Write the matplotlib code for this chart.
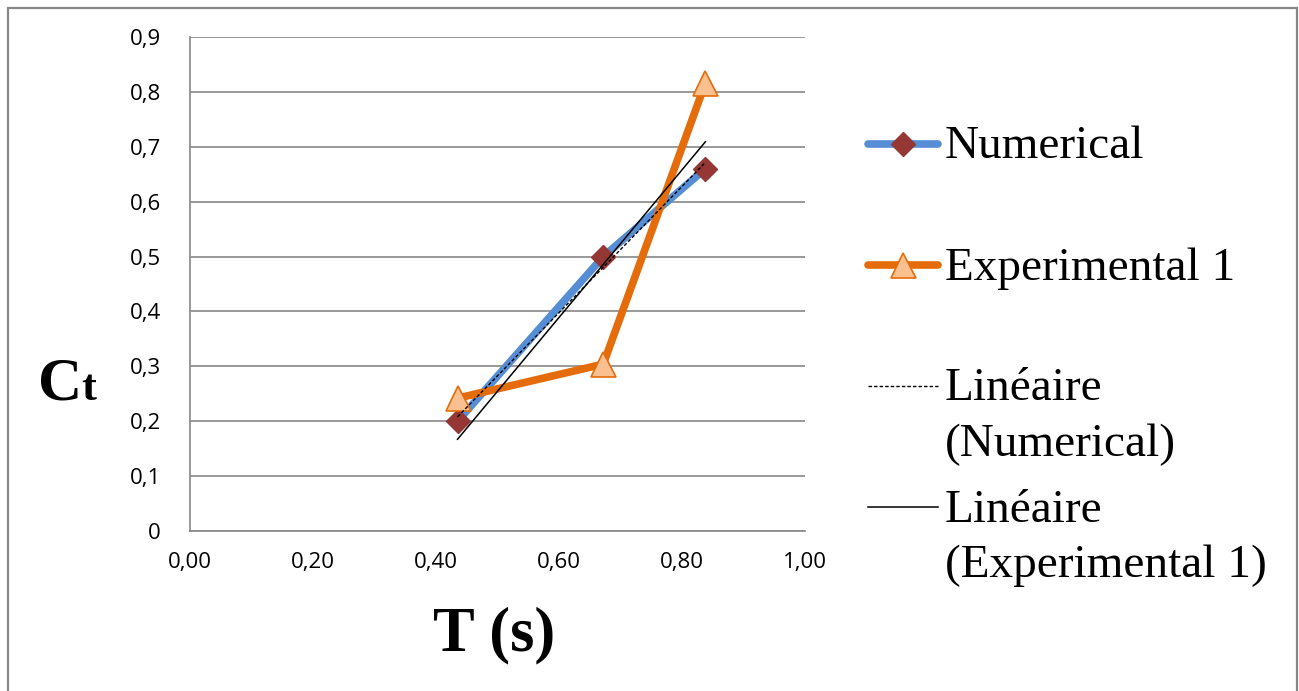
import numpy as np
import matplotlib
matplotlib.use("Agg")
import matplotlib.pyplot as plt
from matplotlib.lines import Line2D
from matplotlib.patches import Rectangle
from matplotlib.ticker import FuncFormatter

# data
T = [0.435, 0.672, 0.838]
ct_numerical = [0.20, 0.50, 0.66]
ct_experimental = [0.242, 0.304, 0.816]

labels = ["Numerical", "Experimental 1", "Linéaire\n(Numerical)", "Linéaire\n(Experimental 1)"]

blue = "#558ED5"
orange = "#E46C0A"
dark_red = "#953735"
light_orange = "#FAC090"
grey = "#878787"

W, H = 1299, 691
fig = plt.figure(figsize=(W / 100, H / 100), dpi=100)

def px(x, y):
    # pixel position (from top-left) -> figure fraction
    return x / W, 1 - y / H

# outer frame
fig.add_artist(Rectangle(px(8, 720), (1297 - 8) / W, (720 - 8) / H,
                         transform=fig.transFigure, fill=False, edgecolor=grey, lw=1.6))

ax = fig.add_axes([190 / W, 1 - 531 / H, (805 - 190) / W, (531 - 37) / H])

ax.plot(T, ct_numerical, color=blue, lw=5.5, marker="D", ms=12,
        markerfacecolor=dark_red, markeredgecolor=dark_red, zorder=3)
ax.plot(T, ct_experimental, color=orange, lw=5.5, marker="^", ms=18,
        markerfacecolor=light_orange, markeredgecolor=orange, markeredgewidth=1.2, zorder=3)

# linear trendlines
xs = np.array([min(T), max(T)])
a, b = np.polyfit(T, ct_numerical, 1)
ax.plot(xs, a * xs + b, color="black", lw=1.0, ls=(0, (2.5, 1.5)), zorder=4)
a, b = np.polyfit(T, ct_experimental, 1)
ax.plot(xs, a * xs + b, color="black", lw=1.1, zorder=4)

ax.set_xlim(0, 1.0)
ax.set_ylim(0, 0.9)
ax.set_xticks(np.arange(0, 1.01, 0.2))
ax.set_yticks(np.arange(0, 0.91, 0.1))
ax.xaxis.set_major_formatter(FuncFormatter(lambda v, p: f"{v:.2f}".replace(".", ",")))
ax.yaxis.set_major_formatter(FuncFormatter(lambda v, p: "0" if abs(v) < 1e-9 else f"{v:.1f}".replace(".", ",")))
ax.tick_params(length=0, labelsize=16)
ax.tick_params(axis="x", pad=15)
ax.tick_params(axis="y", pad=21)
for lab in ax.get_xticklabels() + ax.get_yticklabels():
    lab.set_family("Open Sans")
ax.yaxis.grid(True, color=grey, lw=1.2)
ax.set_axisbelow(True)
for s in ["top", "right"]:
    ax.spines[s].set_visible(False)
for s in ["left", "bottom"]:
    ax.spines[s].set_color(grey)
    ax.spines[s].set_linewidth(1.2)

# axis titles
fig.text(*px(494, 650), "T (s)", family="Liberation Serif", weight="bold",
         fontsize=45, ha="center", va="baseline")
fig.text(*px(38, 400), "C", family="Liberation Serif", weight="bold",
         fontsize=44, ha="left", va="baseline")
fig.text(*px(81, 400), "t", family="Liberation Serif", weight="bold",
         fontsize=32, ha="left", va="baseline")

# legend drawn by hand
rows = [144, 265, 386, 507]
styles = [
    dict(color=blue, lw=5.5, solid_capstyle="round", marker="D", ms=12,
         markerfacecolor=dark_red, markeredgecolor=dark_red),
    dict(color=orange, lw=5.5, solid_capstyle="round", marker="^", ms=18,
         markerfacecolor=light_orange, markeredgecolor=orange, markeredgewidth=1.2),
    dict(color="black", lw=1.0, ls=(0, (2.5, 1.5))),
    dict(color="black", lw=1.1),
]
for y, st, lab in zip(rows, styles, labels):
    x0, yy = px(868, y)
    x1, _ = px(938, y)
    fig.add_artist(Line2D([x0, (x0 + x1) / 2, x1], [yy, yy, yy], transform=fig.transFigure,
                          markevery=[1] if "marker" in st else None, **st))
    fig.text(*px(945, y - 18), lab, family="Liberation Serif", fontsize=34,
             ha="left", va="top", linespacing=1.4)

fig.savefig("out.png", dpi=100)
